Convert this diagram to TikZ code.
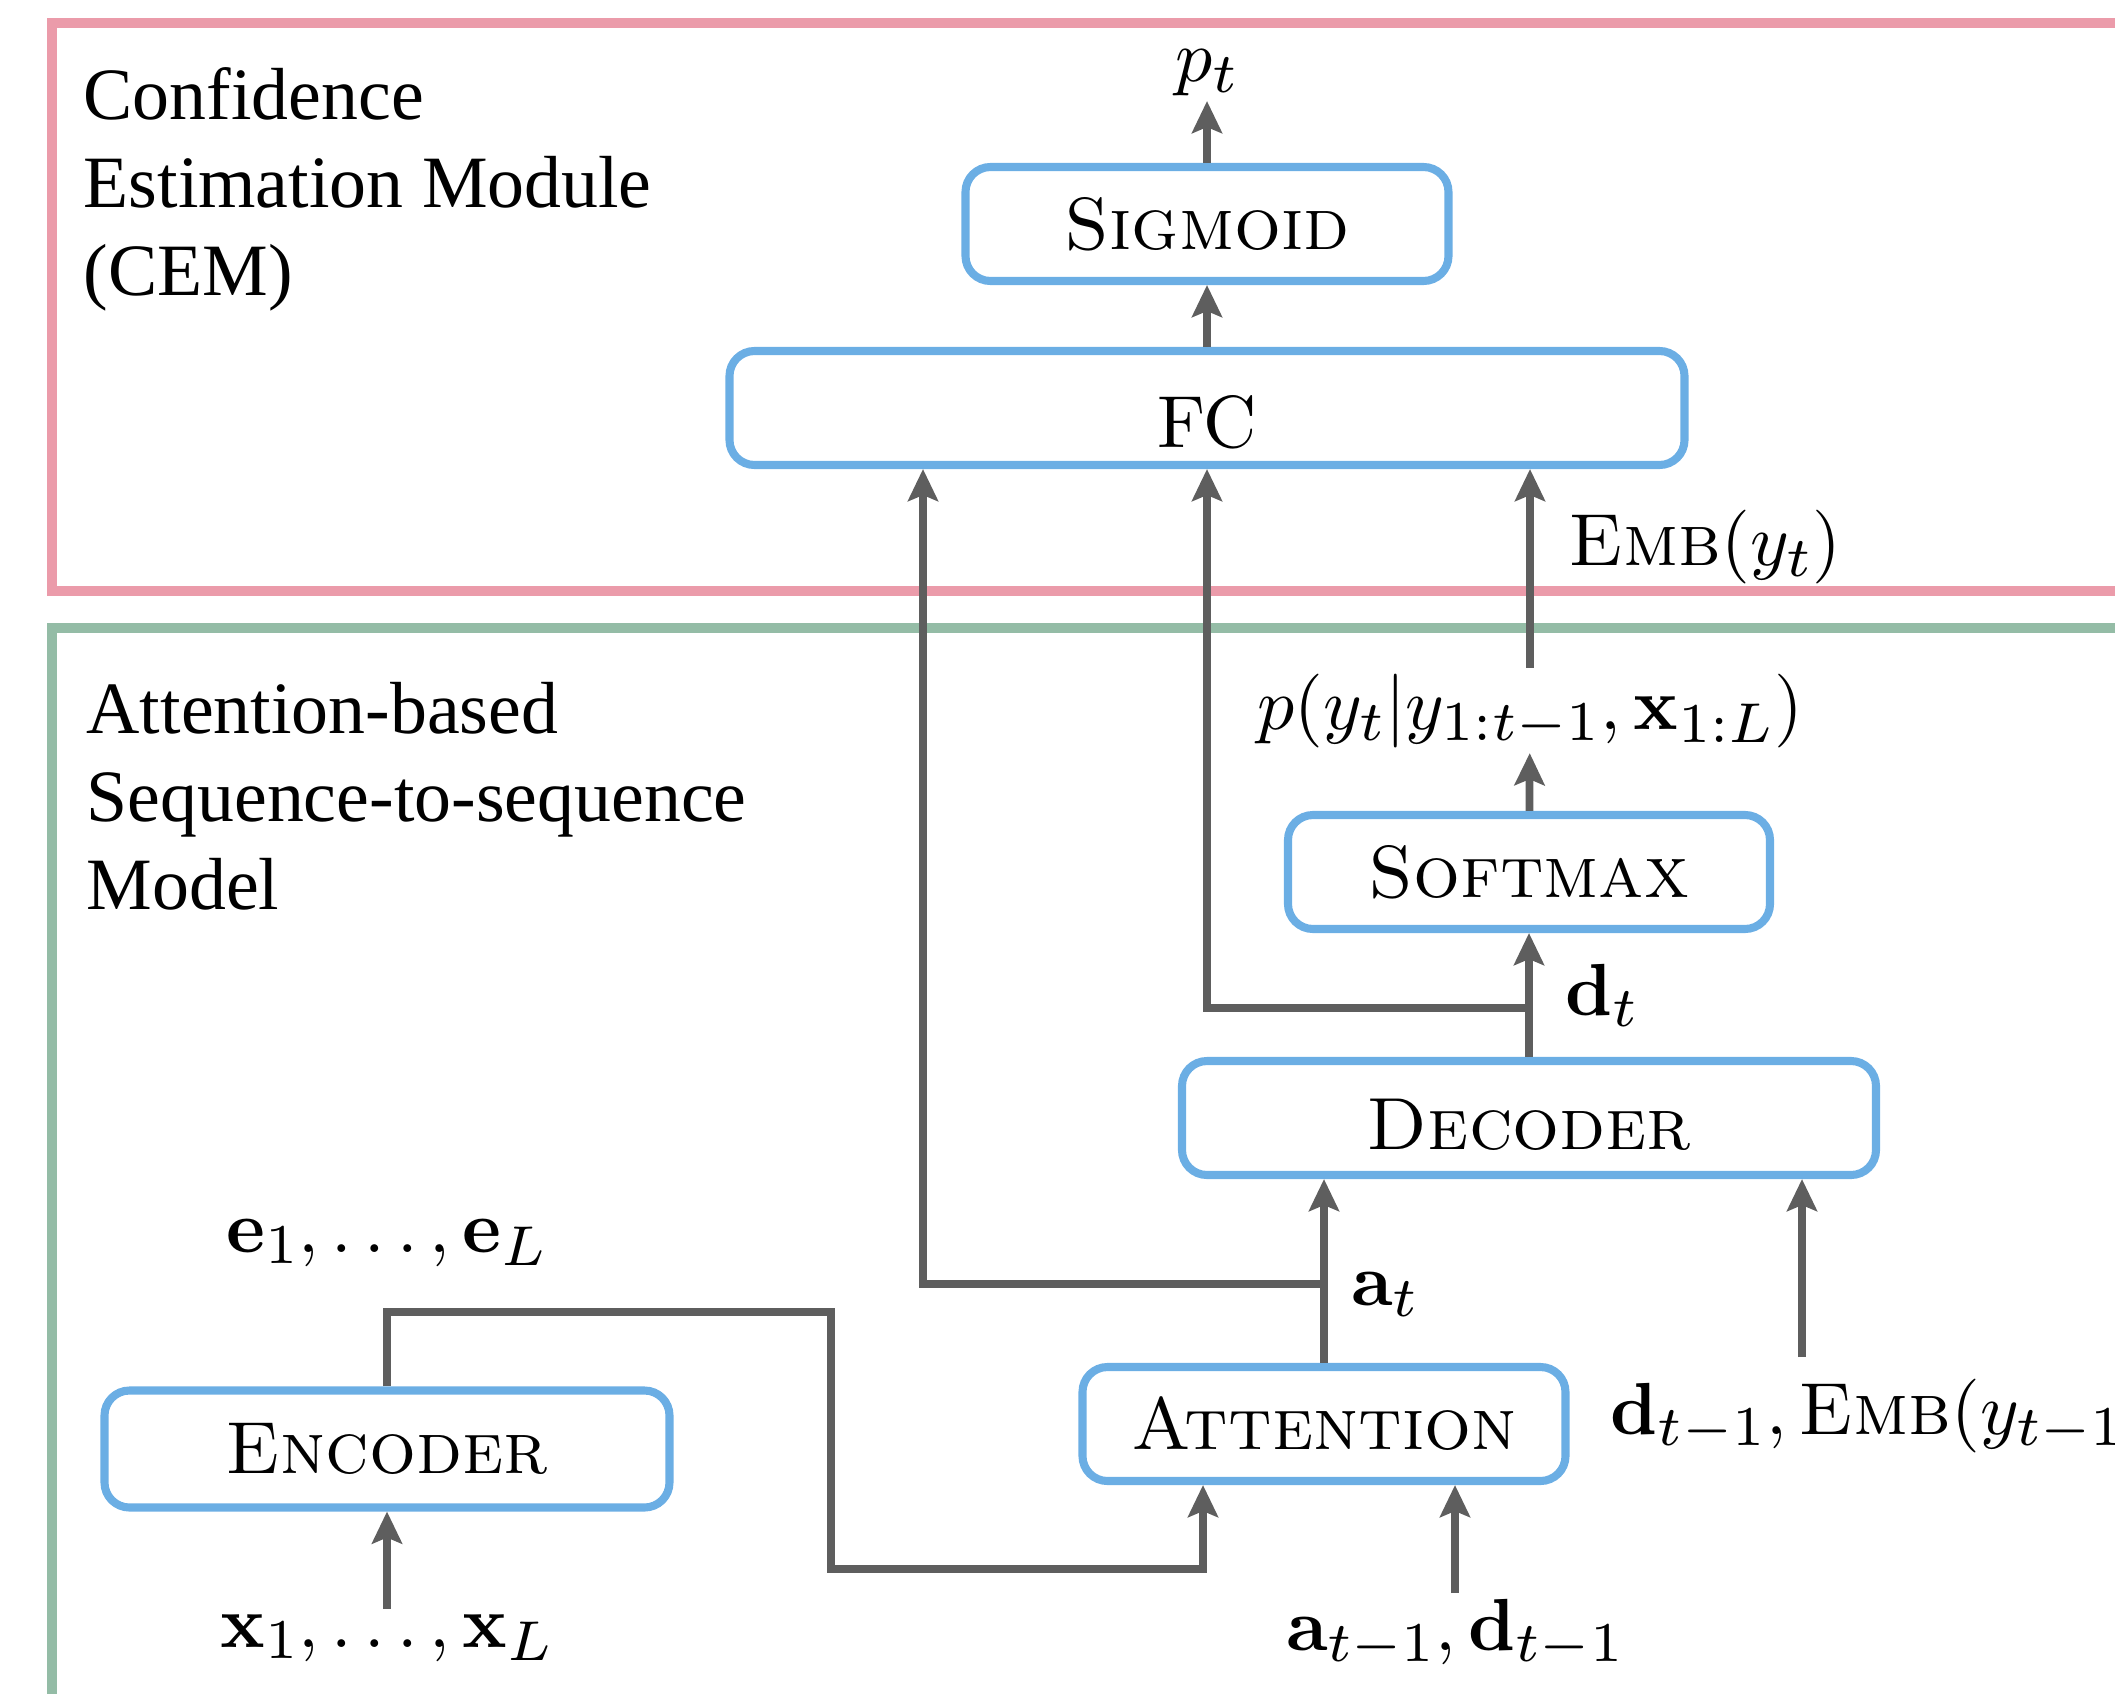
\RequirePackage{fix-cm}
\documentclass[tikz,border=0pt]{standalone}
\usepackage[no-math]{fontspec}
\setmainfont{lmroman10-regular.otf}[BoldFont=lmroman10-bold.otf, ItalicFont=lmroman10-italic.otf, SmallCapsFont=lmromancaps10-regular.otf]
\newfontfamily\timesfont{Liberation Serif}
\usetikzlibrary{arrows.meta,positioning,calc}

% large math, set from the 10pt and 7pt designs
\DeclareFontShape{OML}{cmm}{m}{it}{<-18>cmmi7<18->cmmi10}{}
\DeclareFontShape{OT1}{cmr}{m}{n}{<-18>cmr7<18->cmr10}{}
\DeclareFontShape{OT1}{cmr}{bx}{n}{<-18>cmbx7<18->cmbx10}{}
\DeclareFontShape{OMS}{cmsy}{m}{n}{<-18>cmsy7<18->cmsy10}{}
\DeclareMathSizes{21}{21}{16}{12}

\definecolor{cempink}{RGB}{235,155,170}
\definecolor{seqgreen}{RGB}{148,188,166}
\definecolor{blockblue}{RGB}{107,174,228}
\definecolor{arrowgray}{RGB}{94,94,94}

\begin{document}
\begin{tikzpicture}[
    every node/.style={font=\fontsize{21}{25}\selectfont},
    block/.style={rectangle, draw=blockblue, line width=2.3pt, rounded corners=0.25cm, minimum height=1.14cm, inner sep=0pt},
    lbl/.style={inner sep=0.5mm},
    title/.style={anchor=north west, inner sep=0pt, align=left, font=\timesfont\fontsize{21}{25}\selectfont},
    conn/.style={-{Stealth[length=0.32cm,width=0.3cm,inset=0.06cm]}, draw=arrowgray, line width=2.2pt},
    frame/.style={line width=2.7pt}]
    \useasboundingbox (0,0) rectangle (21.15,-16.94);

    % the two modules
    \draw[frame, cempink] (0.52,-0.23) rectangle (22.6,-5.91);
    \draw[frame, seqgreen] (0.52,-6.28) rectangle (22.6,-18);
    \node[title] (cemtitle) at (0.83,-0.67) {Confidence\\Estimation Module\\(CEM)};
    \node[title] (seqtitle) at (0.86,-6.82) {Attention-based\\Sequence-to-sequence\\Model};

    % blocks
    \node[block, minimum width=4.83cm] (sigmoid) at (12.07,-2.24) {\textsc{Sigmoid}};
    \node[block, minimum width=9.55cm, text height=0.78cm, text depth=0cm] (fc) at (12.07,-4.08) {FC};
    \node[block, minimum width=4.82cm] (softmax) at (15.29,-8.72) {\textsc{Softmax}};
    \node[block, minimum width=6.94cm, text height=0.62cm, text depth=0cm] (decoder) at (15.29,-11.18) {\textsc{Decoder}};
    \node[block, minimum width=4.83cm] (attention) at (13.24,-14.24) {\textsc{Attention}};
    \node[block, minimum width=5.65cm, minimum height=1.17cm] (encoder) at (3.87,-14.49) {\textsc{Encoder}};

    % labels
    \node[lbl, anchor=base] (pt) at (12.07,-0.81) {$p_t$};
    \node[lbl, anchor=base west] (emb) at (15.63,-5.65) {$\textsc{Emb}(y_t)$};
    \node[lbl, anchor=base] (prob) at (15.30,-7.29) {$p(y_t|y_{1:t-1},\mathbf{x}_{1:L})$};
    \node[lbl, anchor=base west] (dt) at (15.60,-10.15) {$\mathbf{d}_t$};
    \node[lbl, anchor=base west] (at) at (13.46,-13.05) {$\mathbf{a}_t$};
    \node[lbl, anchor=base west] (dprev) at (16.05,-14.34) {$\mathbf{d}_{t-1},\textsc{Emb}(y_{t-1})$};
    \node[lbl, anchor=base] (aprev) at (14.55,-16.50) {$\mathbf{a}_{t-1},\mathbf{d}_{t-1}$};
    \node[lbl, anchor=base] (es) at (3.87,-12.52) {$\mathbf{e}_1,\ldots,\mathbf{e}_L$};
    \node[lbl, anchor=base] (xs) at (3.87,-16.47) {$\mathbf{x}_1,\ldots,\mathbf{x}_L$};

    \coordinate (encturn) at (8.31,-13.12);
    \coordinate (encdown) at (8.31,-15.69);
    \coordinate (atsplit) at (13.24,-12.84);
    \coordinate (dtsplit) at (15.29,-10.08);
    \coordinate (dprevin) at (18.02,-13.57);

    % connectors
    \draw[conn] (xs) -- (encoder);
    \draw[conn] (encoder.north) |- (encturn) -- (encdown) -| ([xshift=-1.21cm]attention.south);
    \draw[conn] (aprev.north) -- (aprev.north |- attention.south);
    \draw[conn] (attention.north) -- (attention.north |- decoder.south);
    \draw[conn] (atsplit) -| ([xshift=-2.84cm]fc.south);
    \draw[conn] (dprevin) -- (dprevin |- decoder.south);
    \draw[conn] (decoder) -- (softmax);
    \draw[conn] (dtsplit) -| (fc.south);
    \draw[conn] (softmax) -- (prob);
    \draw[conn] (prob.north) -- (prob.north |- fc.south);
    \draw[conn] (fc) -- (sigmoid);
    \draw[conn] (sigmoid) -- (pt);
\end{tikzpicture}
\end{document}
